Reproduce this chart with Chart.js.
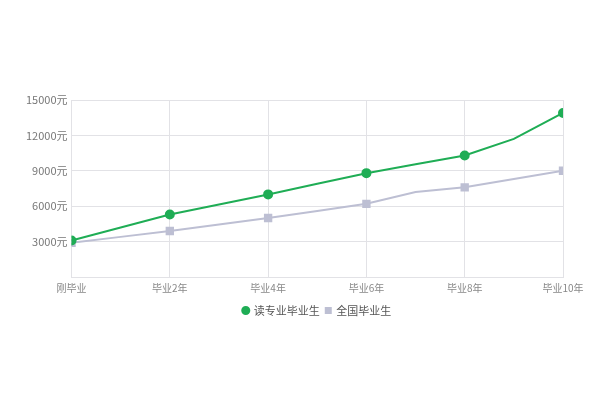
<!DOCTYPE html>
<html>
<head>
<meta charset="utf-8">
<script src="https://cdn.jsdelivr.net/npm/chart.js@4/dist/chart.umd.min.js"></script>
<style>
  html, body { margin: 0; padding: 0; background: #fff; }
  #wrap { position: relative; width: 600px; height: 400px; }
</style>
</head>
<body>
<div id="wrap"><canvas id="salaryChart"></canvas></div>
<script>
// 毕业年限 (0 = 刚毕业)
const years = [0, 1, 2, 3, 4, 5, 6, 7, 8, 9, 10];
const tickLabels = { 0: '刚毕业', 2: '毕业2年', 4: '毕业4年', 6: '毕业6年', 8: '毕业8年', 10: '毕业10年' };

const majorSalary = [3100, 4200, 5300, 6150, 7000, 7900, 8800, 9550, 10300, 11700, 13900];
const nationalSalary = [2900, 3400, 3900, 4450, 5000, 5600, 6200, 7200, 7600, 8300, 9000];

const GREEN = '#1fad55';
const GRAY = '#bdbfd3';

function toPoints(values) {
    return years.map((y, i) => ({ x: y, y: values[i] }));
}

// 只在偶数年显示标记
function evenRadius(r) {
    return ctx => (ctx.raw && ctx.raw.x % 2 === 0) ? r : 0;
}

new Chart(document.getElementById('salaryChart'), {
    type: 'line',
    data: {
        datasets: [{
            label: '读专业毕业生',
            data: toPoints(majorSalary),
            borderColor: GREEN,
            backgroundColor: GREEN,
            borderWidth: 2,
            pointStyle: 'circle',
            pointRadius: evenRadius(4),
            pointHoverRadius: evenRadius(5),
            tension: 0
        }, {
            label: '全国毕业生',
            data: toPoints(nationalSalary),
            borderColor: GRAY,
            backgroundColor: GRAY,
            borderWidth: 2,
            pointStyle: 'rect',
            pointRadius: evenRadius(4.5),
            pointHoverRadius: evenRadius(5.5),
            tension: 0
        }]
    },
    options: {
        responsive: true,
        maintainAspectRatio: false,
        animation: false,
        layout: {
            padding: { top: 100, bottom: 74, left: 22, right: 37 }
        },
        plugins: {
            legend: {
                position: 'bottom',
                fullSize: false,
                labels: {
                    usePointStyle: true,
                    boxWidth: 5,
                    boxHeight: 5,
                    padding: 6,
                    color: '#555',
                    font: { family: '"Noto Sans CJK SC", sans-serif', size: 11 }
                }
            },
            tooltip: { enabled: false }
        },
        scales: {
            x: {
                type: 'linear',
                min: 0,
                max: 10,
                ticks: {
                    stepSize: 2,
                    color: '#888',
                    padding: 5,
                    font: { family: '"Noto Sans CJK SC", sans-serif', size: 10 },
                    callback: v => tickLabels[v] || ''
                },
                grid: { color: '#e2e2e6', drawTicks: false },
                border: { color: '#e2e2e6' }
            },
            y: {
                min: 0,
                max: 15000,
                ticks: {
                    stepSize: 3000,
                    color: '#777',
                    padding: 4,
                    font: { family: '"Noto Sans CJK SC", sans-serif', size: 11 },
                    callback: v => v === 0 ? '' : v + '元'
                },
                grid: { color: '#e2e2e6', drawTicks: false },
                border: { color: '#e2e2e6' }
            }
        }
    }
});
</script>
</body>
</html>
